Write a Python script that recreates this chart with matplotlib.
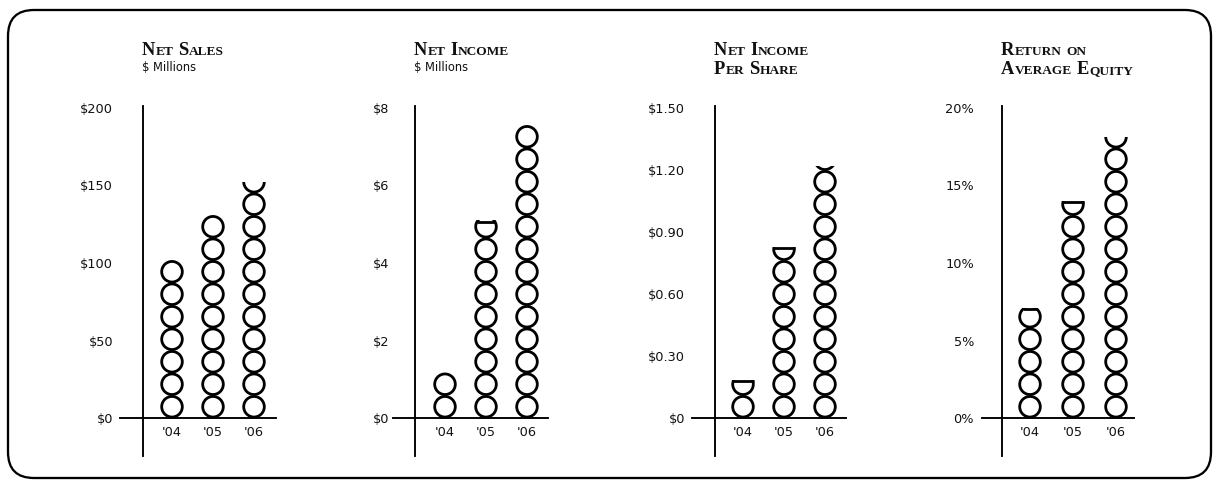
import matplotlib
matplotlib.use('Agg')
import matplotlib.pyplot as plt
from matplotlib.patches import FancyBboxPatch, Rectangle
import numpy as np

# ---------------- data ----------------
years = ["'04", "'05", "'06"]
titles = ["Net Sales", "Net Income", "Net Income\nPer Share", "Return on\nAverage Equity"]
subtitles = ["$ Millions", "$ Millions", "", ""]

net_sales = [101, 130.5, 152]
net_income = [1.16, 5.1, 7.55]
income_per_share = [0.184, 0.827, 1.22]
return_on_equity = [7.1, 14.0, 18.1]

sales_ticks = [0, 50, 100, 150, 200]
sales_labels = ["$0", "$50", "$100", "$150", "$200"]
income_ticks = [0, 2, 4, 6, 8]
income_labels = ["$0", "$2", "$4", "$6", "$8"]
eps_ticks = [0, 0.30, 0.60, 0.90, 1.20, 1.50]
eps_labels = ["$0", "$0.30", "$0.60", "$0.90", "$1.20", "$1.50"]
roe_ticks = [0, 5, 10, 15, 20]
roe_labels = ["0%", "5%", "10%", "15%", "20%"]

series = [net_sales, net_income, income_per_share, return_on_equity]
ticks = [sales_ticks, income_ticks, eps_ticks, roe_ticks]
tick_labels = [sales_labels, income_labels, eps_labels, roe_labels]

# ---------------- layout (pixels) ----------------
W, H = 1216, 480
DPI = 100
PT = 72.0 / DPI
Y_ZERO, Y_TOP, AX_TOP, AX_BOT = 418, 108, 106, 456
# left edge, right edge, vertical axis, first bar, bar spacing, label pad
layout = [
    (120, 276, 143, 172, 41, 7),
    (393, 548, 415, 445, 41, 4),
    (692, 846, 715, 743, 41, 7),
    (982, 1134, 1002, 1030, 43, 8),
]
PITCH = 22.5      # px between circle centres
DIAM = 20.6       # px, stroke-centre diameter
CLW = 2.8         # px, circle stroke
ALW = 1.9         # px, axis line width
OVER = (DIAM + CLW - PITCH) / 2 + 0.3   # px of stroke overshoot above a full circle

fig = plt.figure(figsize=(W / DPI, H / DPI), dpi=DPI)
fig.patch.set_facecolor('white')

bg = fig.add_axes([0, 0, 1, 1], zorder=-1)
bg.set_xlim(0, W)
bg.set_ylim(H, 0)
bg.axis('off')
bg.add_patch(FancyBboxPatch((8, 10), 1203, 468,
                            boxstyle="round,pad=0,rounding_size=26",
                            fill=False, ec='black', lw=2.3 * PT))

TICKFONT = 'DejaVu Sans'
TITLEFONT = 'Liberation Serif'


def small_caps(x, y, text, big=13.3, small=9.6):
    renderer = fig.canvas.get_renderer()
    for word_i, word in enumerate(text.split(' ')):
        if word_i > 0:
            x += 0.27 * small / PT
        runs = []
        for ch in word:
            up = ch.isupper()
            if runs and runs[-1][0] == up:
                runs[-1][1] += ch
            else:
                runs.append([up, ch])
        for up, s in runs:
            t = bg.text(x, y, s.upper(), fontsize=big if up else small,
                        fontfamily=TITLEFONT, fontweight='bold',
                        ha='left', va='baseline', color='#111111')
            bb = t.get_window_extent(renderer)
            x += bb.width + 0.6


for p, (vals, tk, tl, (L, R, SP, B0, DX, PAD)) in enumerate(
        zip(series, ticks, tick_labels, layout)):
    ymax = tk[-1]
    s = (Y_ZERO - Y_TOP) / ymax  # px per unit
    ax = fig.add_axes([L / W, 1 - AX_BOT / H, (R - L) / W, (AX_BOT - AX_TOP) / H])
    ax.set_facecolor('none')
    ax.set_ylim(-(AX_BOT - Y_ZERO) / s, ymax + (Y_TOP - AX_TOP) / s)
    ax.set_xlim(-(B0 - L) / DX, (R - B0) / DX)
    spine_x = (SP - B0) / DX
    ax.spines['top'].set_visible(False)
    ax.spines['left'].set_visible(False)
    ax.spines['bottom'].set_position(('data', 0))
    ax.spines['right'].set_position(('data', spine_x))
    for k in ('bottom', 'right'):
        ax.spines[k].set_linewidth(ALW * PT)
    ax.set_yticks(tk, tl)
    ax.tick_params(axis='y', length=0, pad=PAD * PT, left=True, right=False,
                   labelleft=True, labelright=False, labelsize=9.3)
    ax.set_xticks(range(len(years)), years)
    ax.tick_params(axis='x', length=0, pad=8 * PT, labelsize=9.3)
    for lab in ax.get_xticklabels() + ax.get_yticklabels():
        lab.set_fontfamily(TICKFONT)
        lab.set_color('#111111')

    pitch = PITCH / s
    for i, v in enumerate(vals):
        n = int(np.ceil(v / pitch - 0.03))
        centers = (np.arange(n) + 0.5) * pitch
        sc = ax.scatter([i] * n, centers, s=(DIAM * PT) ** 2, marker='o',
                        facecolors='none', edgecolors='black',
                        linewidths=CLW * PT, zorder=3)
        frac = v / pitch - (n - 1)
        top = v if frac < 0.93 else max(v, n * pitch) + OVER / s
        clip = Rectangle((i - 0.6, -pitch), 1.2, top + pitch, transform=ax.transData)
        sc.set_clip_path(clip)
        if 0.5 < frac < 0.93:
            h = (frac - 0.5) * PITCH
            half = np.sqrt(max((DIAM / 2) ** 2 - h ** 2, 0)) + CLW / 2
            ax.plot([i - half / DX, i + half / DX], [v - CLW / 2 / s] * 2,
                    color='black', lw=CLW * PT, solid_capstyle='butt', zorder=3)

    lines = titles[p].split('\n')
    for li, line in enumerate(lines):
        small_caps(SP - 1, 55 + li * 19.5, line)
    if subtitles[p]:
        bg.text(SP - 1, 71, subtitles[p], fontsize=8.3, fontfamily='DejaVu Sans',
                ha='left', va='baseline', color='#111111')

fig.savefig('out.png', dpi=DPI, facecolor='white')
